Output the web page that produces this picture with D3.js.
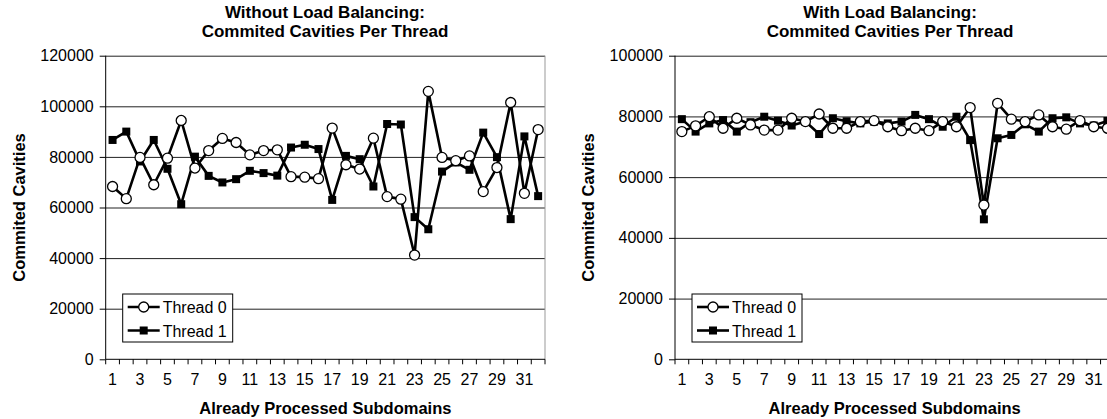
<!DOCTYPE html>
<html lang="en">
<head>
<meta charset="UTF-8">
<script src="https://d3js.org/d3.v7.min.js"></script>
<title>Commited Cavities</title>
<style>
  body { margin: 0; background: #fff; }
  svg { display: block; font-family: "Liberation Sans", Arial, sans-serif; }
</style>
</head>
<body>
<div id="chart"></div>
<script>
    // Subdomain index (x categories)
    const subdomains = [1, 2, 3, 4, 5, 6, 7, 8, 9, 10, 11, 12, 13, 14, 15, 16,
        17, 18, 19, 20, 21, 22, 23, 24, 25, 26, 27, 28, 29, 30, 31, 32];
    const xTickLabels = [1, 3, 5, 7, 9, 11, 13, 15, 17, 19, 21, 23, 25, 27, 29, 31];

    // Without load balancing
    const noLbThread0 = [68300, 63500, 79800, 69000, 79500, 94400, 75600, 82500, 87300, 85700, 80800, 82500,
        82800, 72200, 72000, 71400, 91400, 76900, 75200, 87400, 64300, 63300, 41200, 105900,
        79800, 78500, 80400, 66300, 75800, 101500, 65600, 90800];
    const noLbThread1 = [86700, 90000, 78200, 86700, 75300, 61300, 80100, 72500, 69900, 71200, 74500, 73600,
        72600, 83700, 84800, 83100, 63000, 80400, 79100, 68300, 93000, 92800, 56200, 51400,
        74200, 77800, 74900, 89600, 79900, 55400, 88100, 64500];
    const noLbTicks = [0, 20000, 40000, 60000, 80000, 100000, 120000];

    // With load balancing
    const lbThread0 = [75000, 76900, 79900, 76100, 79400, 77200, 75500, 75500, 79400, 78300, 80800, 76100,
        76100, 78300, 78600, 76600, 75300, 76100, 75300, 78300, 76600, 82900, 50800, 84300,
        79100, 78300, 80500, 76600, 75800, 78600, 76600, 76100];
    const lbThread1 = [79100, 75000, 77700, 78800, 75000, 78100, 79900, 78600, 77000, 78300, 74200, 79400,
        78400, 77700, 78300, 77700, 78300, 80500, 79100, 76600, 79900, 72200, 46100, 72800,
        73900, 77400, 75000, 79400, 79700, 77700, 77000, 78500];
    const lbTicks = [0, 20000, 40000, 60000, 80000, 100000];

    const seriesNames = ["Thread 0", "Thread 1"];

    const W = 1107, H = 419;
    const svg = d3.select("#chart").append("svg")
        .attr("width", W)
        .attr("height", H);

    function drawPanel(cfg) {
        const top = 55.7, bottom = 359.3;
        const left = cfg.left, right = cfg.left + 439.3;
        const g = svg.append("g");

        const x = d3.scaleBand().domain(subdomains).range([left, right]);
        const y = d3.scaleLinear().domain([0, cfg.yMax]).range([bottom, top]);
        const cx = d => x(d) + x.bandwidth() / 2;

        // gridlines
        g.append("g")
            .attr("transform", `translate(${left},0)`)
            .call(d3.axisLeft(y).tickValues(cfg.ticks.slice(1)).tickSize(-(right - left)).tickFormat(""))
            .call(a => a.select(".domain").remove())
            .selectAll("line").attr("stroke", "#222").attr("stroke-width", 1);

        // right border
        g.append("line")
            .attr("x1", right).attr("x2", right).attr("y1", top).attr("y2", bottom)
            .attr("stroke", "#999");

        // y axis
        const yAx = g.append("g")
            .attr("transform", `translate(${left},0)`)
            .call(d3.axisLeft(y).tickValues(cfg.ticks).tickSize(6).tickPadding(6).tickFormat(d3.format("d")));
        yAx.select(".domain").attr("stroke", "#000").attr("d", `M0,${top}V${bottom}`);
        yAx.selectAll("text").attr("font-size", 16).attr("fill", "#000");

        // x axis: ticks at category boundaries
        g.append("line")
            .attr("x1", left).attr("x2", right).attr("y1", bottom).attr("y2", bottom)
            .attr("stroke", "#000");
        g.selectAll(".xtick").data(subdomains.concat(["end"])).join("line")
            .attr("x1", d => d === "end" ? right : x(d))
            .attr("x2", d => d === "end" ? right : x(d))
            .attr("y1", bottom).attr("y2", bottom + 5)
            .attr("stroke", "#000");
        g.append("g")
            .attr("transform", `translate(0,${bottom})`)
            .call(d3.axisBottom(x).tickValues(xTickLabels).tickSize(0).tickPadding(14))
            .call(a => a.select(".domain").remove())
            .selectAll("text").attr("font-size", 16).attr("fill", "#000");

        // lines + markers
        const line = d3.line().x((d, i) => cx(subdomains[i])).y(d => y(d));
        [cfg.t0, cfg.t1].forEach(vals => {
            g.append("path").datum(vals)
                .attr("fill", "none").attr("stroke", "#000").attr("stroke-width", 2.6)
                .attr("stroke-linejoin", "round")
                .attr("d", line);
        });
        g.selectAll(".sq").data(cfg.t1).join("rect")
            .attr("x", (d, i) => cx(subdomains[i]) - 4).attr("y", d => y(d) - 4)
            .attr("width", 8).attr("height", 8).attr("fill", "#000");
        g.selectAll(".ci").data(cfg.t0).join("circle")
            .attr("cx", (d, i) => cx(subdomains[i])).attr("cy", d => y(d))
            .attr("r", 5).attr("fill", "#fff").attr("stroke", "#000").attr("stroke-width", 1.3);

        // titles
        cfg.title.forEach((t, i) => {
            g.append("text").attr("x", cfg.titleX).attr("y", 18 + i * 19)
                .attr("text-anchor", "middle").attr("font-size", 17).attr("font-weight", "bold")
                .text(t);
        });
        g.append("text").attr("x", (left + right) / 2).attr("y", 414)
            .attr("text-anchor", "middle").attr("font-size", 16.5).attr("font-weight", "bold")
            .text("Already Processed Subdomains");
        g.append("text")
            .attr("transform", `translate(${left - 81},${(top + bottom) / 2}) rotate(-90)`)
            .attr("text-anchor", "middle").attr("font-size", 16.5).attr("font-weight", "bold")
            .text("Commited Cavities");

        // legend
        const lg = g.append("g").attr("transform", `translate(${left + 17},294)`);
        lg.append("rect").attr("width", 110).attr("height", 48)
            .attr("fill", "#fff").attr("stroke", "#000").attr("stroke-width", 1);
        seriesNames.forEach((name, i) => {
            const ly = 13 + i * 23.5;
            lg.append("line").attr("x1", 5).attr("x2", 37).attr("y1", ly).attr("y2", ly)
                .attr("stroke", "#000").attr("stroke-width", 2.6);
            if (i === 0) {
                lg.append("circle").attr("cx", 21).attr("cy", ly).attr("r", 5)
                    .attr("fill", "#fff").attr("stroke", "#000").attr("stroke-width", 1.3);
            } else {
                lg.append("rect").attr("x", 17).attr("y", ly - 4).attr("width", 8).attr("height", 8)
                    .attr("fill", "#000");
            }
            lg.append("text").attr("x", 40).attr("y", ly + 6)
                .attr("font-size", 16).text(name);
        });
    }

    drawPanel({
        left: 105.7, yMax: 120000, ticks: noLbTicks,
        t0: noLbThread0, t1: noLbThread1, titleX: 325,
        title: ["Without Load Balancing:", "Commited Cavities Per Thread"]
    });
    drawPanel({
        left: 675, yMax: 100000, ticks: lbTicks,
        t0: lbThread0, t1: lbThread1, titleX: 890,
        title: ["With Load Balancing:", "Commited Cavities Per Thread"]
    });
</script>
</body>
</html>
